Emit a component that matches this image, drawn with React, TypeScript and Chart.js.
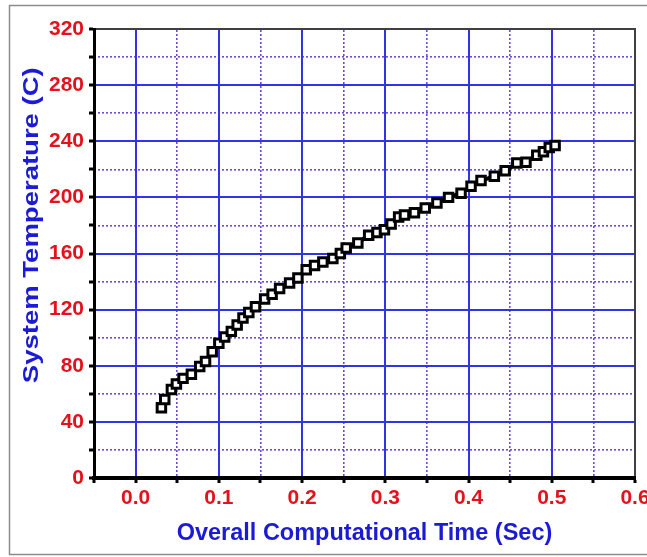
import React, { useEffect, useRef } from 'react';
import { Chart, registerables } from 'chart.js';

Chart.register(...registerables);

// ---- data ----
const timeSec = [
  0.031, 0.035, 0.043, 0.049, 0.057, 0.067, 0.077, 0.084, 0.092, 0.1,
  0.107, 0.115, 0.122, 0.129, 0.136, 0.144, 0.155, 0.164, 0.173, 0.185,
  0.195, 0.205, 0.215, 0.225, 0.237, 0.246, 0.253, 0.267, 0.28, 0.29,
  0.299, 0.307, 0.316, 0.323, 0.335, 0.348, 0.362, 0.376, 0.391, 0.403,
  0.415, 0.431, 0.444, 0.458, 0.469, 0.482, 0.49, 0.497, 0.504,
];
const temperatureC = [
  50, 56, 63, 67, 71, 74, 79.5, 83, 90, 96,
  100.5, 104.5, 109, 114, 118, 122, 127.5, 131, 135, 139,
  142.5, 148.5, 151.5, 154, 156.5, 160, 164, 167.5, 173, 175,
  177, 181, 186, 187.5, 189, 192.5, 196, 200, 203, 208,
  212, 215, 219, 224.5, 225, 230, 232.5, 235.5, 237,
];
const xTickLabels = ['0.0', '0.1', '0.2', '0.3', '0.4', '0.5', '0.6'];
const yTickLabels = ['0', '40', '80', '120', '160', '200', '240', '280', '320'];
const xTitle = 'Overall Computational Time (Sec)';
const yTitle = 'System Temperature (C)';

const X_MIN = -0.05;
const X_MAX = 0.6;
const Y_MIN = 0;
const Y_MAX = 320;

// ---- styles ----
const FONT = '"Liberation Sans", Arial, Helvetica, sans-serif';
const RED = '#e3131b';
const BLUE = '#1b1bd6';
const MAJOR = '#3232e6';
const MINOR = '#7048e0';
const CLEAR = 'rgba(0,0,0,0)';

const xKey = (v: number) => Math.round(v * 100);
const isMajorX = (v: number) => Math.abs(xKey(v)) % 10 === 0;
const isMajorY = (v: number) => Math.round(v) % 40 === 0;

const framePlugin = {
  id: 'frameAndTitle',
  beforeDraw(chart: any) {
    const ctx = chart.ctx;
    ctx.save();
    ctx.fillStyle = '#ffffff';
    ctx.fillRect(0, 0, chart.width, chart.height);
    ctx.strokeStyle = '#8c8c8c';
    ctx.lineWidth = 1.5;
    ctx.strokeRect(9.5, 5.5, 720, 549);
    ctx.restore();
  },
  afterDraw(chart: any) {
    const ctx = chart.ctx;
    const area = chart.chartArea;
    ctx.save();
    ctx.translate(32, area.top + (area.bottom - area.top) * 0.437);
    ctx.rotate(-Math.PI / 2);
    ctx.scale(1.25, 1);
    ctx.font = `bold 22px ${FONT}`;
    ctx.fillStyle = BLUE;
    ctx.textAlign = 'center';
    ctx.textBaseline = 'middle';
    ctx.fillText(yTitle, 0, 0);
    ctx.restore();
  },
};

export default function App() {
  const ref = useRef<HTMLCanvasElement | null>(null);

  useEffect(() => {
    if (!ref.current) return;
    document.body.style.overflow = 'hidden';
    const points = timeSec.map((x, i) => ({ x, y: temperatureC[i] }));
    const chart = new Chart(ref.current, {
      type: 'line',
      data: {
        datasets: [
          {
            data: points,
            borderColor: '#000000',
            borderWidth: 4,
            pointStyle: 'rect',
            pointRadius: 6,
            pointBorderWidth: 3,
            pointBorderColor: '#000000',
            pointBackgroundColor: '#ffffff',
            fill: false,
            tension: 0,
          },
        ],
      },
      options: {
        responsive: false,
        devicePixelRatio: 1,
        animation: false,
        layout: { padding: { left: 0, top: 29, right: 45, bottom: 0 } },
        plugins: {
          legend: { display: false },
          tooltip: { enabled: false },
        },
        scales: {
          x2: {
            type: 'linear',
            position: 'top',
            min: X_MIN,
            max: X_MAX,
            z: -1,
            ticks: { display: false, stepSize: 0.05, autoSkip: false },
            grid: {
              drawTicks: false,
              lineWidth: 1.6,
              color: (c: any) => {
                const v = c.tick ? c.tick.value : 0;
                if (isMajorX(v) || xKey(v) <= xKey(X_MIN)) return CLEAR;
                return MINOR;
              },
            },
            border: { display: true, color: '#404040', width: 2, dash: [2, 2] },
            afterFit: (s: any) => { s.height = 0; },
          },
          y2: {
            type: 'linear',
            position: 'right',
            min: Y_MIN,
            max: Y_MAX,
            z: -1,
            ticks: { display: false, stepSize: 20, autoSkip: false },
            grid: {
              drawTicks: false,
              lineWidth: 1.6,
              color: (c: any) => {
                const v = c.tick ? c.tick.value : 0;
                return isMajorY(v) ? CLEAR : MINOR;
              },
            },
            border: { display: true, color: '#404040', width: 2, dash: [2, 2] },
            afterFit: (s: any) => { s.width = 0; },
          },
          x: {
            type: 'linear',
            position: 'bottom',
            min: X_MIN,
            max: X_MAX,
            ticks: {
              stepSize: 0.05,
              autoSkip: false,
              maxRotation: 0,
              color: RED,
              padding: 3,
              font: { family: FONT, size: 21, weight: 'bold' },
              callback: (value: any) => {
                const v = Number(value);
                if (!isMajorX(v)) return '';
                const s = (xKey(v) / 100).toFixed(1);
                return xTickLabels.includes(s) ? s : '';
              },
            },
            grid: {
              lineWidth: 2,
              color: (c: any) => {
                const v = c.tick ? c.tick.value : 0;
                if (!isMajorX(v) || xKey(v) >= xKey(X_MAX)) return CLEAR;
                return MAJOR;
              },
              tickColor: '#000000',
              tickLength: 5,
              tickWidth: 3,
            },
            border: { display: true, color: '#000000', width: 4 },
            title: {
              display: true,
              text: xTitle,
              color: BLUE,
              font: { family: FONT, size: 23.5, weight: 'bold' },
              padding: { top: 0, bottom: 9 },
            },
            afterFit: (s: any) => { s.height = 79; },
          },
          y: {
            type: 'linear',
            position: 'left',
            min: Y_MIN,
            max: Y_MAX,
            ticks: {
              stepSize: 20,
              autoSkip: false,
              color: RED,
              padding: 5,
              font: { family: FONT, size: 21, weight: 'bold' },
              callback: (value: any) => {
                const v = Number(value);
                if (!isMajorY(v)) return '';
                const s = String(Math.round(v));
                return yTickLabels.includes(s) ? s : '';
              },
            },
            grid: {
              lineWidth: 2,
              color: (c: any) => {
                const v = c.tick ? c.tick.value : 0;
                if (!isMajorY(v) || v <= Y_MIN || v >= Y_MAX) return CLEAR;
                return MAJOR;
              },
              tickColor: '#000000',
              tickLength: 5,
              tickWidth: 3,
            },
            border: { display: true, color: '#000000', width: 3 },
            afterFit: (s: any) => { s.width = 94; },
          },
        },
      } as any,
      plugins: [framePlugin],
    });
    return () => chart.destroy();
  }, []);

  return (
    <div
      style={{
        position: 'absolute',
        left: 0,
        top: 0,
        width: 647,
        height: 557,
        overflow: 'hidden',
        background: '#ffffff',
      }}
    >
      <canvas ref={ref} width={680} height={557} style={{ display: 'block', width: 680, height: 557 }} />
    </div>
  );
}
